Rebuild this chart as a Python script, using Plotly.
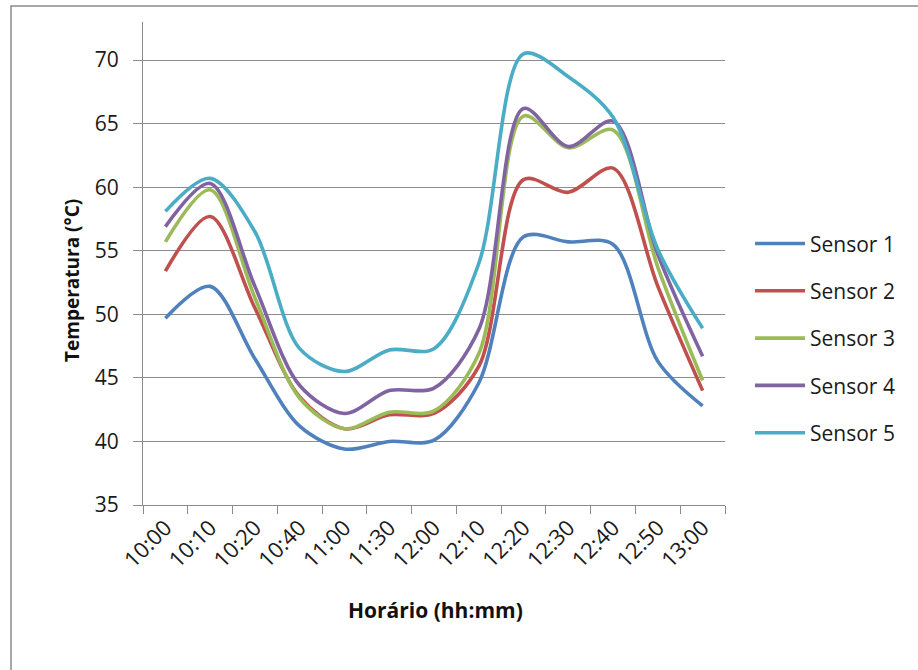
import plotly.graph_objects as go

# Measurement times (hh:mm)
horarios = ["10:00", "10:10", "10:20", "10:40", "11:00", "11:30", "12:00",
            "12:10", "12:20", "12:30", "12:40", "12:50", "13:00"]

# Temperatures (°C) for each sensor
sensor_1 = [49.7, 52.2, 46.5, 41.2, 39.4, 40.0, 40.1, 44.6, 56.1, 55.7, 55.5, 46.3, 42.8]
sensor_2 = [53.4, 57.7, 50.5, 43.5, 41.0, 42.1, 42.2, 45.9, 60.6, 59.6, 61.5, 52.2, 44.0]
sensor_3 = [55.7, 59.8, 51.3, 43.4, 41.0, 42.3, 42.4, 46.9, 65.6, 63.1, 64.5, 53.7, 44.8]
sensor_4 = [56.9, 60.3, 52.2, 44.4, 42.2, 44.0, 44.2, 48.8, 66.2, 63.2, 65.2, 54.7, 46.7]
sensor_5 = [58.1, 60.7, 56.5, 47.3, 45.5, 47.2, 47.3, 54.0, 70.5, 68.7, 65.5, 55.1, 48.9]

series_names = ["Sensor 1", "Sensor 2", "Sensor 3", "Sensor 4", "Sensor 5"]
series_values = [sensor_1, sensor_2, sensor_3, sensor_4, sensor_5]
colors = ["#4F81BD", "#C0504D", "#9BBB59", "#8064A2", "#4BACC6"]

FONT = "Open Sans"
GRID = "#8C8C8C"

fig = go.Figure()
for name, vals, col in zip(series_names, series_values, colors):
    fig.add_trace(go.Scatter(
        x=horarios, y=vals, name=name, legendgroup=name,
        mode="lines",
        line=dict(color=col, width=3.6, shape="spline", smoothing=0.9),
    ))

fig.update_layout(
    width=918, height=670,
    margin=dict(l=143, r=193, t=22, b=165),
    paper_bgcolor="white", plot_bgcolor="white",
    font=dict(family=FONT, size=21, color="#1a1a1a"),
    showlegend=True,
    legend=dict(
        x=1.043, xanchor="left", y=0.345, yanchor="middle",
        font=dict(family=FONT, size=21, color="#1a1a1a"),
        itemwidth=50, tracegroupgap=17, traceorder="grouped",
        bgcolor="rgba(0,0,0,0)",
    ),
    xaxis=dict(
        type="category", range=[-0.5, 12.5],
        tickson="boundaries", ticks="outside", ticklen=8, tickcolor=GRID,
        tickangle=-45, tickfont=dict(family=FONT, size=22, color="#1a1a1a"),
        showline=True, linecolor=GRID, linewidth=1.2,
        showgrid=False, zeroline=False,
    ),
    yaxis=dict(
        range=[35, 73], dtick=5, tick0=35,
        ticks="outside", ticklen=9, tickcolor=GRID, ticklabelstandoff=10,
        tickfont=dict(family=FONT, size=21, color="#1a1a1a"),
        showline=True, linecolor=GRID, linewidth=1.2,
        showgrid=True, gridcolor=GRID, gridwidth=1.2, zeroline=False,
    ),
    annotations=[
        dict(text="<b>Horário (hh:mm)</b>", xref="paper", yref="paper",
             x=0.502, y=-0.217, xanchor="center", yanchor="middle",
             showarrow=False, font=dict(family=FONT, size=21, color="#111111")),
        dict(text="<b>Temperatura (°C)</b>", xref="paper", yref="paper",
             x=-0.122, y=0.466, xanchor="center", yanchor="middle", textangle=-90,
             showarrow=False, font=dict(family=FONT, size=19, color="#111111")),
    ],
    shapes=[
        # chart-area frame
        dict(type="rect", xref="paper", yref="paper",
             x0=(11 - 143) / 582, x1=(940 - 143) / 582,
             y0=(505 - 700) / 483, y1=(505 - 6) / 483,
             line=dict(color="#8C8C8C", width=1.5), fillcolor="rgba(0,0,0,0)",
             layer="below"),
    ],
)

fig.write_html("out.html")
